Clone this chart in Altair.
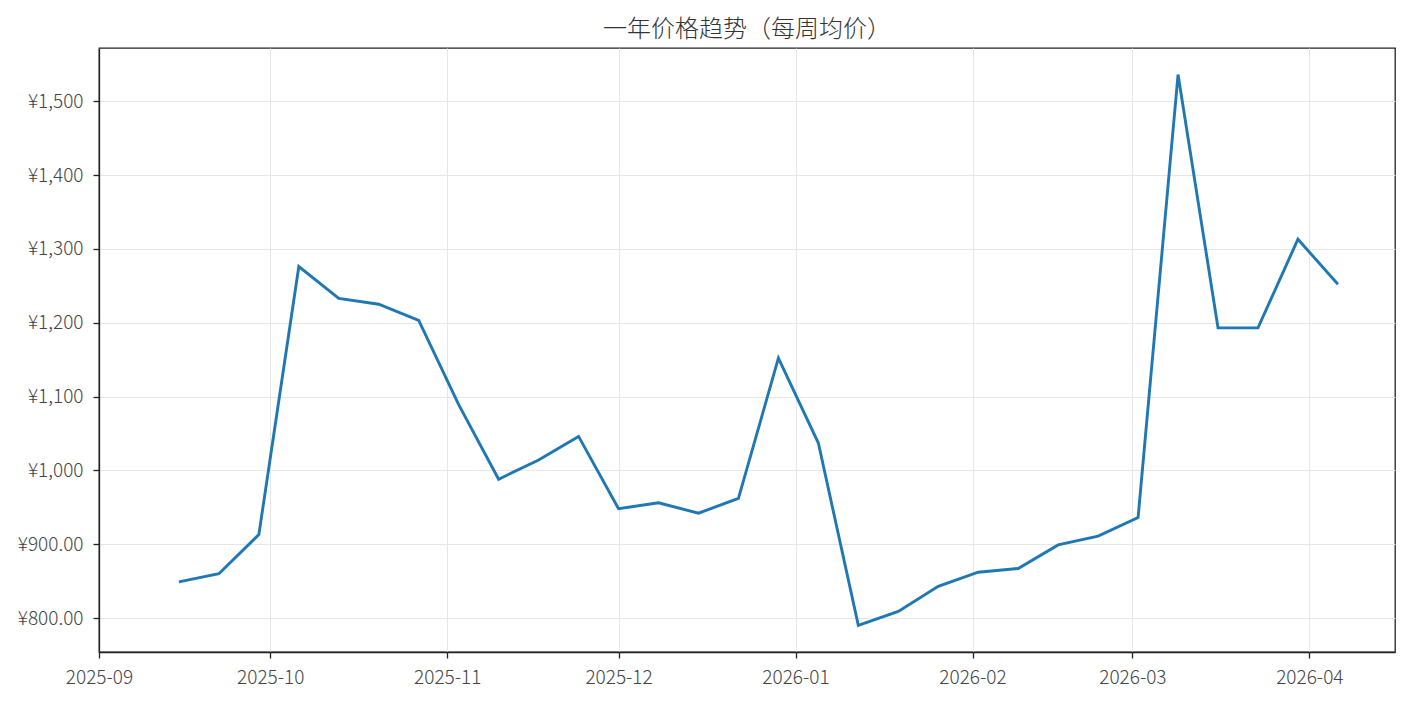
import altair as alt
import pandas as pd

dates = pd.date_range("2025-09-15", periods=30, freq="7D").strftime("%Y-%m-%d").tolist()
prices = [849, 860, 913, 1276, 1233, 1225, 1203, 1089, 988, 1014, 1046,
          948, 956, 942, 962, 1152, 1037, 790, 809, 843, 862, 867, 899, 911,
          936, 1536, 1193, 1193, 1313, 1252]
y_ticks = [800, 900, 1000, 1100, 1200, 1300, 1400, 1500]
month_ticks = [(2025, 9), (2025, 10), (2025, 11), (2025, 12), (2026, 1), (2026, 2), (2026, 3), (2026, 4)]

df = pd.DataFrame({"date": dates, "price": prices})

FONT = "Noto Sans CJK SC"

chart = alt.Chart(df).mark_line(color="#1f77b4", strokeWidth=2.9).encode(
    x=alt.X("date:T",
            scale=alt.Scale(type="utc",
                            domain=[alt.DateTime(year=2025, month=9, date=1, utc=True),
                                    alt.DateTime(year=2026, month=4, date=16, utc=True)]),
            axis=alt.Axis(title=None, labelExpr="utcFormat(datum.value, '%Y-%m')",
                          labelAlign="center", labelPadding=10,
                          values=[alt.DateTime(year=y, month=m, date=1, utc=True) for y, m in month_ticks])),
    y=alt.Y("price:Q",
            scale=alt.Scale(domain=[754, 1572], nice=False, zero=False),
            axis=alt.Axis(title=None, values=y_ticks, labelPadding=10,
                          labelExpr="datum.value < 1000 ? '¥' + format(datum.value, '.2f') : '¥' + format(datum.value, ',')")),
).properties(
    width=1296, height=604,
    title=alt.TitleParams("一年价格趋势（每周均价）", fontSize=24, font=FONT, fontWeight=300,
                          color="#333333", offset=6),
    autosize=alt.AutoSizeParams(type="none"),
    padding={"left": 91, "top": 40, "right": 7, "bottom": 44},
).configure_axis(
    labelFont=FONT, labelFontSize=19, labelFontWeight=300, labelColor="#444444",
    gridColor="#e6e6e6", gridWidth=1,
    domainColor="#222222", domainWidth=1.3,
    tickColor="#222222", tickSize=6, tickWidth=1.3,
).configure_view(
    stroke="#222222", strokeWidth=1.3
)

chart.save("out.html", embed_options={"renderer": "svg", "actions": False})
